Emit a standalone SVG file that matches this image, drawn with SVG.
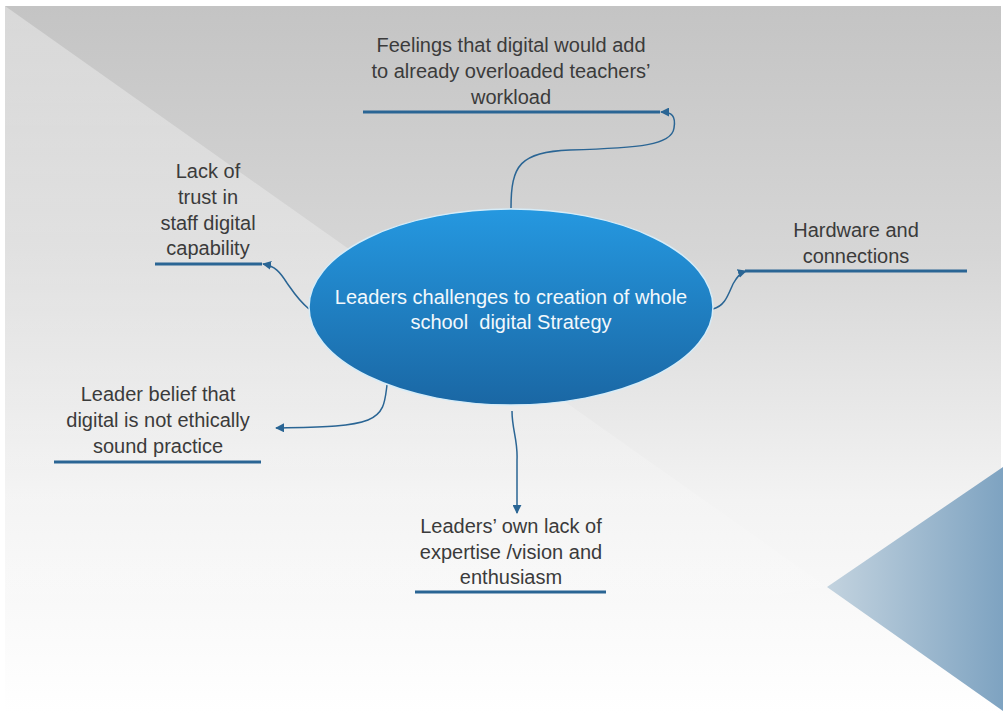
<svg xmlns="http://www.w3.org/2000/svg" width="1003" height="713" viewBox="0 0 1003 713">
  <defs>
    <linearGradient id="bg" x1="0" y1="0" x2="0" y2="1">
      <stop offset="0" stop-color="#c4c4c4"/>
      <stop offset="0.35" stop-color="#d6d6d6"/>
      <stop offset="0.7" stop-color="#f3f3f3"/>
      <stop offset="1" stop-color="#ffffff"/>
    </linearGradient>
    <linearGradient id="ov" gradientUnits="userSpaceOnUse" x1="0" y1="6" x2="0" y2="600">
      <stop offset="0" stop-color="#ffffff" stop-opacity="0.35"/>
      <stop offset="0.5" stop-color="#ffffff" stop-opacity="0.25"/>
      <stop offset="1" stop-color="#ffffff" stop-opacity="0.08"/>
    </linearGradient>
    <linearGradient id="tri" x1="0" y1="0" x2="1" y2="0">
      <stop offset="0" stop-color="#c3d3df"/>
      <stop offset="1" stop-color="#7ea3c1"/>
    </linearGradient>
    <linearGradient id="ell" x1="0" y1="0" x2="0" y2="1">
      <stop offset="0" stop-color="#2598e0"/>
      <stop offset="1" stop-color="#1a67a4"/>
    </linearGradient>
    <marker id="ah" viewBox="0 0 10 10" refX="9" refY="5" markerWidth="9" markerHeight="9" markerUnits="userSpaceOnUse" orient="auto">
      <path d="M0,0 L10,5 L0,10 Z" fill="#2a6594"/>
    </marker>
    <style>
      .lbl { font-family: "Liberation Sans", Arial, sans-serif; font-size: 20px; fill: #3b3b3b; text-anchor: middle; }
      .ctr { font-family: "Liberation Sans", Arial, sans-serif; font-size: 20px; fill: #f2f8fc; text-anchor: middle; }
      .ul { stroke: #2a6594; stroke-width: 3; }
      .con { fill: none; stroke: #2a6594; stroke-width: 1.5; marker-end: url(#ah); }
    </style>
  </defs>

  <rect x="0" y="0" width="1003" height="713" fill="#ffffff"/>
  <rect x="5" y="6" width="996" height="707" fill="url(#bg)"/>
  <polygon points="5,6 827,587 5,713" fill="url(#ov)"/>
  <polygon points="827,587 1003,467 1003,711" fill="url(#tri)"/>

  <g id="connectors">
    <path class="con" d="M511,208 C511,165 520,152 570,150 C640,148 672,145 674,128 C676,116 672,112 661,112"/>
    <path class="con" d="M309,309 C298,300 292,290 287,283 C280,272 275,266 263,264"/>
    <path class="con" d="M713,309 C725,306 728,295 733,284 C737,277 740,273 746,271"/>
    <path class="con" d="M387,385 C385,400 385,413 368,420 C350,427 320,427 276,428"/>
    <path class="con" d="M512,411 C512,430 518,440 517,460 C517,480 517,495 517,513"/>
  </g>

  <g id="center">
    <ellipse cx="511" cy="307" rx="202" ry="98" fill="url(#ell)" stroke="#d6ecf8" stroke-width="1.5"/>
    <text class="ctr" x="511" y="304">Leaders challenges to creation of whole</text>
    <text class="ctr" x="511" y="329" xml:space="preserve">school  digital Strategy</text>
  </g>

  <g id="workload">
    <text class="lbl" x="511" y="52">Feelings that digital would add</text>
    <text class="lbl" x="511" y="78">to already overloaded teachers’</text>
    <text class="lbl" x="511" y="104">workload</text>
    <line class="ul" x1="363" y1="112" x2="660" y2="112"/>
  </g>

  <g id="trust">
    <text class="lbl" x="208" y="178">Lack of</text>
    <text class="lbl" x="208" y="204">trust in</text>
    <text class="lbl" x="208" y="230">staff digital</text>
    <text class="lbl" x="208" y="255">capability</text>
    <line class="ul" x1="155" y1="264" x2="262" y2="264"/>
  </g>

  <g id="hardware">
    <text class="lbl" x="856" y="237">Hardware and</text>
    <text class="lbl" x="856" y="263">connections</text>
    <line class="ul" x1="745" y1="271" x2="967" y2="271"/>
  </g>

  <g id="ethics">
    <text class="lbl" x="158" y="401">Leader belief that</text>
    <text class="lbl" x="158" y="427">digital is not ethically</text>
    <text class="lbl" x="158" y="453">sound practice</text>
    <line class="ul" x1="54" y1="462" x2="261" y2="462"/>
  </g>

  <g id="expertise">
    <text class="lbl" x="511" y="533">Leaders’ own lack of</text>
    <text class="lbl" x="511" y="559">expertise /vision and</text>
    <text class="lbl" x="511" y="584">enthusiasm</text>
    <line class="ul" x1="415" y1="592" x2="606" y2="592"/>
  </g>
</svg>
